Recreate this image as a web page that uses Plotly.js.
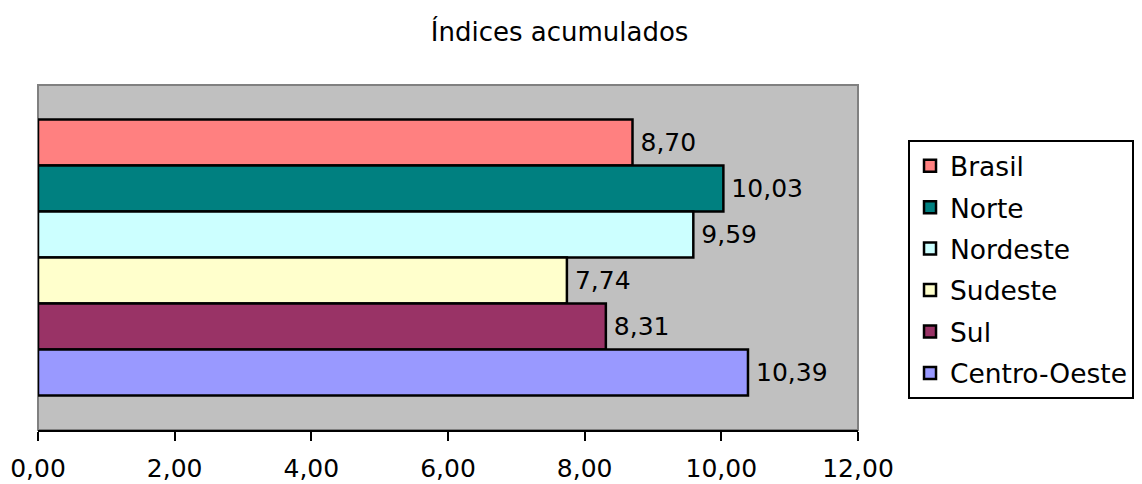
<!DOCTYPE html>
<html>
<head>
<meta charset="utf-8">
<script src="https://cdn.plot.ly/plotly-3.0.1.min.js"></script>
<style>html,body{margin:0;padding:0;background:#fff;}#chart{width:1142px;height:484px;}</style>
</head>
<body>
<div id="chart"></div>
<script>
const regions = ["Brasil", "Norte", "Nordeste", "Sudeste", "Sul", "Centro-Oeste"];
const values = [8.70, 10.03, 9.59, 7.74, 8.31, 10.39];
const colors = ["#FF8080", "#008080", "#CCFFFF", "#FFFFCC", "#993366", "#9999FF"];
const tickVals = [0, 2, 4, 6, 8, 10, 12];

const FONT = "DejaVu Sans, Verdana, sans-serif";

const traces = regions.map((name, i) => ({
  type: "bar",
  orientation: "h",
  name: name,
  x: [values[i]],
  y: [""],
  legendgroup: "g" + i,
  marker: { color: colors[i], line: { color: "#000", width: 2.5 } },
  texttemplate: "\u2009%{x:.2f}",
  textposition: "outside",
  cliponaxis: false,
  textfont: { family: FONT, size: 25, color: "#000" },
  hoverinfo: "x+name"
}));

const layout = {
  width: 1142,
  height: 484,
  separators: ",.",
  paper_bgcolor: "#ffffff",
  plot_bgcolor: "#C0C0C0",
  font: { family: FONT, color: "#000" },
  margin: { l: 38, r: 284, t: 85, b: 54, autoexpand: false },
  title: { text: "Índices acumulados", font: { family: FONT, size: 26, color: "#000" }, x: 0.49, xref: "container", xanchor: "center", y: 0.935, yanchor: "middle" },
  barmode: "group",
  bargap: 0.2,
  bargroupgap: 0,
  xaxis: {
    range: [0, 12],
    tickvals: tickVals,
    tickformat: ".2f",
    showgrid: false,
    zeroline: false,
    showline: true,
    linecolor: "#000",
    linewidth: 2,
    ticks: "outside",
    ticklen: 9,
    tickwidth: 2,
    tickcolor: "#000",
    ticklabelstandoff: 6,
    tickfont: { family: FONT, size: 25, color: "#000" },
    fixedrange: true
  },
  yaxis: {
    range: [0.5, -0.5],
    showticklabels: false,
    showgrid: false,
    zeroline: false,
    ticks: "",
    fixedrange: true
  },
  showlegend: true,
  legend: {
    x: 1.061, xanchor: "left",
    y: 0.8406, yanchor: "top",
    traceorder: "grouped",
    tracegroupgap: 4,
    bordercolor: "#000",
    borderwidth: 2,
    bgcolor: "#fff",
    font: { family: FONT, size: 26.5, color: "#000" }
  },
  shapes: [{
    type: "rect", xref: "paper", yref: "paper", x0: 0, x1: 1, y0: 0, y1: 1,
    line: { color: "#808080", width: 2 }, fillcolor: "rgba(0,0,0,0)", layer: "below"
  }]
};

Plotly.newPlot("chart", traces, layout, { displayModeBar: false, staticPlot: true });
</script>
</body>
</html>
